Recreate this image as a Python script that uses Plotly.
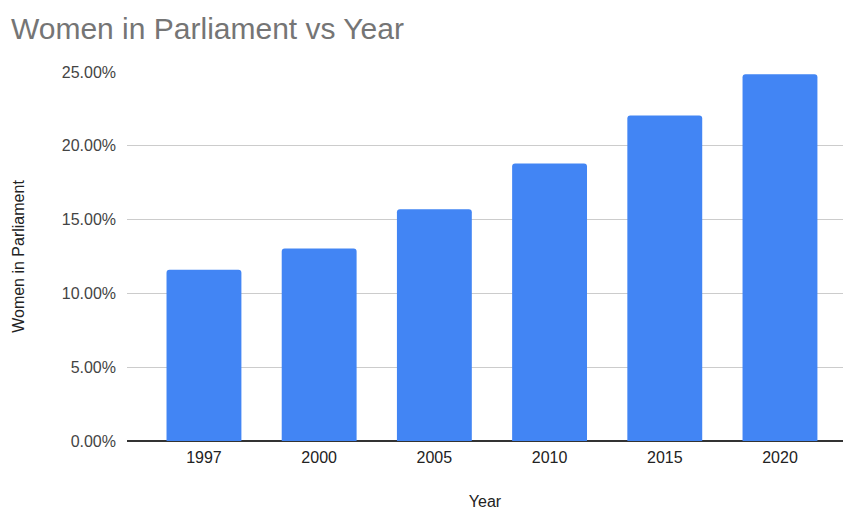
import plotly.graph_objects as go

years = ["1997", "2000", "2005", "2010", "2015", "2020"]
women_share = [0.116, 0.1305, 0.157, 0.188, 0.2205, 0.2485]
y_ticks = [0, 0.05, 0.10, 0.15, 0.20, 0.25]
y_tick_labels = ["0.00%", "5.00%", "10.00%", "15.00%", "20.00%", "25.00%"]

fig = go.Figure(go.Bar(
    x=years, y=women_share,
    marker=dict(color="#4285F4", cornerradius=3, line=dict(width=0)),
))

font = "Liberation Sans, Arial, sans-serif"
fig.update_layout(
    width=844, height=510,
    margin=dict(l=127, r=1, t=72, b=69, autoexpand=False),
    paper_bgcolor="white", plot_bgcolor="white",
    bargap=0.35,
    showlegend=False,
    title=dict(text="Women in Parliament vs Year", x=0.013, xanchor="left",
               y=0.945, yanchor="middle",
               font=dict(family=font, size=30, color="#757575")),
    font=dict(family=font),
)
fig.update_xaxes(
    type="category", range=[-0.668, 5.547],
    tickfont=dict(size=16, color="#222222"),
    title=dict(text="Year", font=dict(size=16, color="#222222"), standoff=39),
    showgrid=False, showline=False, ticks="", zeroline=False,
    ticklabelstandoff=5,
)
fig.update_yaxes(
    range=[0, 0.25], tickvals=y_ticks, ticktext=y_tick_labels,
    tickfont=dict(size=16, color="#444444"),
    title=dict(text="Women in Parliament", font=dict(size=16, color="#222222"), standoff=33),
    showgrid=True, gridcolor="#cccccc", gridwidth=1,
    zeroline=True, zerolinecolor="#333333", zerolinewidth=1.5,
    ticks="", ticklabelstandoff=10,
)
fig.write_html("out.html", config={"displayModeBar": False},
               post_script="document.body.style.margin='0';document.body.style.padding='0';")
